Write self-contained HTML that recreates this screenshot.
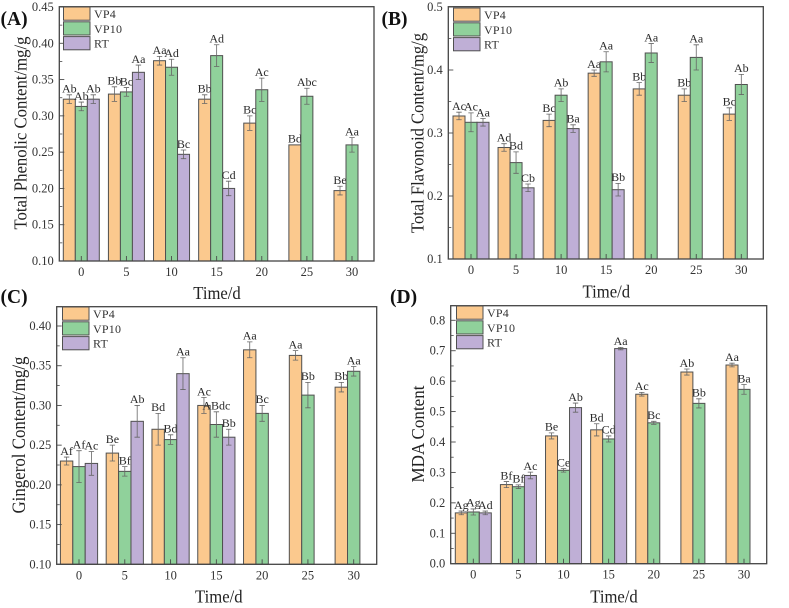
<!DOCTYPE html>
<html>
<head>
<meta charset="utf-8">
<title>Four-panel bar charts</title>
<style>
html,body{margin:0;padding:0;background:#fff;}
svg{display:block;font-family:"Liberation Serif",serif;}
</style>
</head>
<body>
<svg id="figure" width="789" height="608" viewBox="0 0 789 608" xmlns="http://www.w3.org/2000/svg"></svg>
<script>
var categories = ['0','5','10','15','20','25','30'];
var seriesNames = ['VP4','VP10','RT'];

var aVP4 = [0.323,0.330,0.376,0.323,0.290,0.260,0.197];
var aVP10 = [0.313,0.333,0.367,0.383,0.336,0.327,0.260];
var aRT = [0.323,0.360,0.247,0.200];
var aErrVP4 = [0.006,0.010,0.006,0.006,0.010,0,0.006];
var aErrVP10 = [0.006,0.006,0.011,0.015,0.016,0.011,0.010];
var aErrRT = [0.006,0.010,0.006,0.010];
var aLabVP4 = ['Ab','Bb','Aa','Bb','Bc','Bd','Be'];
var aLabVP10 = ['Ab','Bc','Ad','Ad','Ac','Abc','Aa'];
var aLabRT = ['Ab','Aa','Bc','Cd'];
var aTicks = ['0.10','0.15','0.20','0.25','0.30','0.35','0.40','0.45'];

var bVP4 = [0.327,0.277,0.320,0.395,0.370,0.360,0.330];
var bVP10 = [0.317,0.253,0.360,0.413,0.427,0.420,0.377];
var bRT = [0.317,0.213,0.307,0.210];
var bErrVP4 = [0.006,0.006,0.010,0.005,0.010,0.010,0.010];
var bErrVP10 = [0.015,0.017,0.010,0.016,0.015,0.020,0.016];
var bErrRT = [0.006,0.006,0.006,0.010];
var bLabVP4 = ['Ac','Ad','Bc','Aa','Bb','Bb','Bc'];
var bLabVP10 = ['Ac','Bd','Ab','Aa','Aa','Aa','Ab'];
var bLabRT = ['Aa','Cb','Ba','Bb'];
var bTicks = ['0.1','0.2','0.3','0.4','0.5'];

var cVP4 = [0.230,0.240,0.270,0.300,0.370,0.363,0.323];
var cVP10 = [0.223,0.217,0.257,0.276,0.290,0.313,0.343];
var cRT = [0.227,0.280,0.340,0.260];
var cErrVP4 = [0.005,0.010,0.020,0.010,0.010,0.006,0.006];
var cErrVP10 = [0.020,0.006,0.006,0.016,0.010,0.016,0.006];
var cErrRT = [0.015,0.020,0.020,0.010];
var cLabVP4 = ['Af','Be','Bd','Ac','Aa','Aa','Bb'];
var cLabVP10 = ['Af','Bf','Bd','ABdc','Bc','Bb','Aa'];
var cLabRT = ['Ac','Ab','Aa','Bb'];
var cTicks = ['0.10','0.15','0.20','0.25','0.30','0.35','0.40'];

var dVP4 = [0.167,0.260,0.420,0.440,0.557,0.630,0.653];
var dVP10 = [0.170,0.253,0.307,0.410,0.463,0.527,0.573];
var dRT = [0.167,0.290,0.513,0.707];
var dErrVP4 = [0.006,0.010,0.010,0.020,0.006,0.010,0.006];
var dErrVP10 = [0.010,0.006,0.006,0.010,0.005,0.015,0.016];
var dErrRT = [0.006,0.011,0.015,0.004];
var dLabVP4 = ['Ag','Bf','Be','Bd','Ac','Ab','Aa'];
var dLabVP10 = ['Ag','Bf','Ce','Cd','Bc','Bb','Ba'];
var dLabRT = ['Ad','Ac','Ab','Aa'];
var dTicks = ['0.0','0.1','0.2','0.3','0.4','0.5','0.6','0.7','0.8'];

var SVGNS = 'http://www.w3.org/2000/svg';
var fills = ['#fbc98e','#90d19b','#bfafd6'];
var figure = document.getElementById('figure');

function make(tag, parent, attrs, text) {
  var el = document.createElementNS(SVGNS, tag);
  for (var k in attrs) { el.setAttribute(k, attrs[k]); }
  if (text !== undefined) { el.textContent = text; }
  parent.appendChild(el);
  return el;
}

function drawPanel(p) {
  var g = make('g', figure, {});
  
  

  function y(v) { return p.yBase + (v - p.vBase) / (p.vRef - p.vBase) * (p.yRef - p.yBase); }
  function x(i) { return p.cx0 + i * (p.cx6 - p.cx0) / 6; }
  var vTop = p.vBase + (p.top - p.yBase) / (p.yRef - p.yBase) * (p.vRef - p.vBase);

  for (var s = 0; s < 3; s++) {
    var vals = p.values[s];
    for (var i = 0; i < vals.length; i++) {
      var cx = x(i) + (s - 1) * p.bw;
      var yv = y(vals[i]);
      var bar = make('rect', g, {x: cx - p.bw / 2, y: yv, width: p.bw, height: p.bottom - yv, fill: fills[s], stroke: '#505050', 'stroke-width': 1});
      
      

      var e = p.errors[s][i];
      var yHi = y(vals[i] + e);
      var yLo = y(vals[i] - e);
      if (e > 0) {
        var eb = make('path', g, {d: 'M' + (cx - 2.7) + ' ' + yHi + 'H' + (cx + 2.7) + 'M' + cx + ' ' + yHi + 'V' + yLo + 'M' + (cx - 2.7) + ' ' + yLo + 'H' + (cx + 2.7), fill: 'none', stroke: '#666', 'stroke-width': 0.8});
        
        
      }

      var lab = make('text', g, {x: cx, y: yHi - 2.2, 'text-anchor': 'middle', 'font-size': 12, fill: '#2a2a2a'}, p.labels[s][i]);
      
      
    }
  }

  var frame = make('rect', g, {x: p.left, y: p.top, width: p.right - p.left, height: p.bottom - p.top, fill: 'none', stroke: '#444', 'stroke-width': 1.3});
  
  

  for (var t = 0; t < p.ticks.length; t++) {
    var tv = parseFloat(p.ticks[t]);
    var ty = y(tv);
    var tk = make('line', g, {x1: p.left, x2: p.left + 5, y1: ty, y2: ty, stroke: '#4a4a4a', 'stroke-width': 0.9});
    
    
    var tl = make('text', g, {x: p.left - 5.5, y: ty + 4, 'text-anchor': 'end', 'font-size': 12.5, fill: '#333'}, p.ticks[t]);
    
    
    var mv = tv + p.minor;
    if (mv < vTop) {
      var my = y(mv);
      var mk = make('line', g, {x1: p.left, x2: p.left + 3, y1: my, y2: my, stroke: '#4a4a4a', 'stroke-width': 0.8});
      
      
    }
  }

  for (var c = 0; c < categories.length; c++) {
    var xt = x(c);
    var xk = make('line', g, {x1: xt, x2: xt, y1: p.bottom, y2: p.bottom - 5, stroke: '#4a4a4a', 'stroke-width': 0.9});
    
    
    var xl = make('text', g, {x: xt, y: p.bottom + 15, 'text-anchor': 'middle', 'font-size': 12.5, fill: '#333'}, categories[c]);
    
    
  }

  var xTitle = make('text', g, {x: p.xTitleX, y: p.xTitleY, 'text-anchor': 'middle', 'font-size': 17.5, textLength: 47.5, lengthAdjust: 'spacingAndGlyphs', fill: '#222'}, 'Time/d');
  
  

  var yTitle = make('text', g, {x: 0, y: 0, transform: 'translate(' + p.yTitleX + ' ' + p.yTitleY + ') rotate(-90)', 'text-anchor': 'middle', 'font-size': p.yTitleSize, textLength: p.yTitleLen, lengthAdjust: 'spacingAndGlyphs', fill: '#222'}, p.yTitle);
  
  

  var letter = make('text', g, {x: p.letterX, y: p.letterY, 'font-size': 19.5, 'font-weight': 'bold', fill: '#111'}, '(' + p.id.toUpperCase() + ')');
  
  

  for (var l = 0; l < 3; l++) {
    var ly = p.legendY + l * 14.8;
    var sw = make('rect', g, {x: p.legendX, y: ly, width: 26.5, height: 13.2, fill: fills[l], stroke: '#505050', 'stroke-width': 1});
    
    
    var lt = make('text', g, {x: p.legendX + 30.5, y: ly + 11, 'font-size': 12, fill: '#333', 'letter-spacing': 0.2}, seriesNames[l]);
    
    
  }
}

drawPanel({id:'a', left:59.3, right:374, top:6.7, bottom:261, cx0:81.3, cx6:352, bw:12,
  vBase:0.10, vRef:0.45, yBase:261, yRef:7, minor:0.025, ticks:aTicks,
  values:[aVP4,aVP10,aRT], errors:[aErrVP4,aErrVP10,aErrRT], labels:[aLabVP4,aLabVP10,aLabRT],
  yTitle:'Total Phenolic Content/mg/g', yTitleSize:17.5, yTitleLen:193, yTitleX:26.7, yTitleY:133, xTitleX:217, xTitleY:299,
  letterX:0.5, letterY:25, legendX:63.5, legendY:7});

drawPanel({id:'b', left:448.3, right:763.3, top:6.7, bottom:259, cx0:471, cx6:741.3, bw:12,
  vBase:0.1, vRef:0.5, yBase:259, yRef:7, minor:0.05, ticks:bTicks,
  values:[bVP4,bVP10,bRT], errors:[bErrVP4,bErrVP10,bErrRT], labels:[bLabVP4,bLabVP10,bLabRT],
  yTitle:'Total Flavonoid Content/mg/g', yTitleSize:18, yTitleLen:200, yTitleX:423.3, yTitleY:133, xTitleX:606.3, xTitleY:297.7,
  letterX:381.5, letterY:25, legendX:453.5, legendY:8});

drawPanel({id:'c', left:56.7, right:376.7, top:306.7, bottom:564.3, cx0:79, cx6:353.7, bw:12.4,
  vBase:0.10, vRef:0.40, yBase:564.3, yRef:326, minor:0.025, ticks:cTicks,
  values:[cVP4,cVP10,cRT], errors:[cErrVP4,cErrVP10,cErrRT], labels:[cLabVP4,cLabVP10,cLabRT],
  yTitle:'Gingerol Content/mg/g', yTitleSize:19, yTitleLen:157, yTitleX:25, yTitleY:435, xTitleX:218.8, xTitleY:602.7,
  letterX:0.5, letterY:303, legendX:62.5, legendY:307});

drawPanel({id:'d', left:450.7, right:766.7, top:305.7, bottom:563.7, cx0:473.3, cx6:744, bw:12,
  vBase:0, vRef:0.8, yBase:563.7, yRef:320.3, minor:0.05, ticks:dTicks,
  values:[dVP4,dVP10,dRT], errors:[dErrVP4,dErrVP10,dErrRT], labels:[dLabVP4,dLabVP10,dLabRT],
  yTitle:'MDA Content', yTitleSize:17.5, yTitleLen:97, yTitleX:424, yTitleY:434, xTitleX:614, xTitleY:602.7,
  letterX:390, letterY:303, legendX:456.5, legendY:306});
</script>
</body>
</html>
